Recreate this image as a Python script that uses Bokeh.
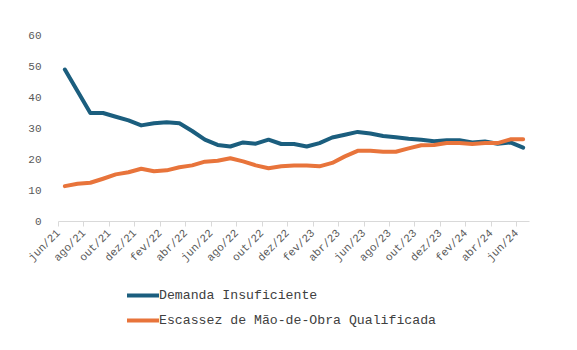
import math
from bokeh.plotting import figure
from bokeh.layouts import column
from bokeh.models import Range1d, FixedTicker, Legend, LegendItem, ColumnDataSource
from bokeh.embed import file_html
from bokeh.resources import INLINE

months = ["jun/21", "jul/21", "ago/21", "set/21", "out/21", "nov/21", "dez/21",
          "jan/22", "fev/22", "mar/22", "abr/22", "mai/22", "jun/22", "jul/22",
          "ago/22", "set/22", "out/22", "nov/22", "dez/22", "jan/23", "fev/23",
          "mar/23", "abr/23", "mai/23", "jun/23", "jul/23", "ago/23", "set/23",
          "out/23", "nov/23", "dez/23", "jan/24", "fev/24", "mar/24", "abr/24",
          "mai/24", "jun/24"]

demanda = [49.0, 42.0, 35.0, 35.0, 33.8, 32.6, 31.0, 31.7, 32.0, 31.7, 29.2, 26.4,
           24.7, 24.2, 25.5, 25.1, 26.4, 25.0, 25.0, 24.2, 25.3, 27.1, 28.0, 28.9,
           28.4, 27.6, 27.2, 26.7, 26.4, 25.9, 26.2, 26.2, 25.5, 25.8, 25.1, 25.5, 23.8]

escassez = [11.4, 12.2, 12.5, 13.8, 15.2, 15.9, 17.0, 16.2, 16.5, 17.5, 18.1, 19.3,
            19.6, 20.4, 19.4, 18.1, 17.2, 17.8, 18.1, 18.1, 17.8, 18.9, 21.0, 22.8,
            22.8, 22.5, 22.5, 23.6, 24.6, 24.7, 25.3, 25.3, 25.0, 25.3, 25.3, 26.5, 26.5]

y_ticks = [0, 10, 20, 30, 40, 50, 60]
series_names = ["Demanda Insuficiente", "Escassez de Mão-de-Obra Qualificada"]
colors = ["#1b5e7e", "#e8743b"]

idx = list(range(len(months)))
src = ColumnDataSource(dict(x=idx, d=demanda, e=escassez))

FONT = "'Liberation Mono', 'DejaVu Sans Mono', monospace"
GREY = "#595959"
LW = 4

# ---------------- main chart ----------------
p = figure(width=577, height=270, output_backend="svg", toolbar_location=None,
           x_range=Range1d(-0.5, len(months) - 0.5), y_range=Range1d(0, 60),
           min_border_left=58, min_border_right=48, min_border_top=35,
           min_border_bottom=48)
p.outline_line_color = None
p.xgrid.grid_line_color = None
p.ygrid.grid_line_color = None
p.background_fill_color = "white"
p.border_fill_color = "white"

p.line("x", "d", source=src, line_color=colors[0], line_width=LW, line_join="round", line_cap="round")
p.line("x", "e", source=src, line_color=colors[1], line_width=LW, line_join="round", line_cap="round")

# x axis: ticks between categories (Excel style), labels every two months
tick_pos = [i - 0.5 for i in idx if i % 2 == 0]
p.xaxis.ticker = FixedTicker(ticks=tick_pos)
p.xaxis.major_label_overrides = {i - 0.5: months[i] for i in idx if i % 2 == 0}
p.xaxis.major_label_orientation = math.pi / 4
p.xaxis.axis_line_color = "#d9d9d9"
p.xaxis.major_tick_line_color = "#d9d9d9"
p.xaxis.major_tick_out = 5
p.xaxis.major_tick_in = 0
p.xaxis.minor_tick_line_color = None
p.xaxis.major_label_text_font = FONT
p.xaxis.major_label_text_font_size = "11px"
p.xaxis.major_label_text_color = GREY
p.xaxis.major_label_standoff = 5

p.yaxis.ticker = FixedTicker(ticks=y_ticks)
p.yaxis.axis_line_color = None
p.yaxis.major_tick_line_color = None
p.yaxis.minor_tick_line_color = None
p.yaxis.major_label_text_font = FONT
p.yaxis.major_label_text_font_size = "11px"
p.yaxis.major_label_text_color = GREY
p.yaxis.major_label_standoff = 11

# ---------------- legend strip ----------------
q = figure(width=577, height=80, output_backend="svg", toolbar_location=None,
           x_axis_type=None, y_axis_type=None,
           x_range=Range1d(-0.5, len(months) - 0.5), y_range=Range1d(1000, 1001),
           min_border_left=0, min_border_right=0, min_border_top=0, min_border_bottom=0)
q.outline_line_color = None
q.xgrid.grid_line_color = None
q.ygrid.grid_line_color = None
q.border_fill_color = "white"
l1 = q.line("x", "d", source=src, line_color=colors[0], line_width=LW, line_cap="round")
l2 = q.line("x", "e", source=src, line_color=colors[1], line_width=LW, line_cap="round")

legend = Legend(items=[LegendItem(label=series_names[0], renderers=[l1]),
                       LegendItem(label=series_names[1], renderers=[l2])],
                location=(69, 20), orientation="vertical")
legend.border_line_color = None
legend.background_fill_alpha = 0
legend.margin = 0
legend.padding = 0
legend.spacing = 5
legend.glyph_width = 32
legend.glyph_height = 20
legend.label_height = 20
legend.label_standoff = 0
legend.label_text_font = FONT
legend.label_text_font_size = "13.2px"
legend.label_text_color = "#404040"
q.add_layout(legend)

layout = column(p, q, spacing=0)
open("out.html", "w").write(file_html(layout, INLINE))
